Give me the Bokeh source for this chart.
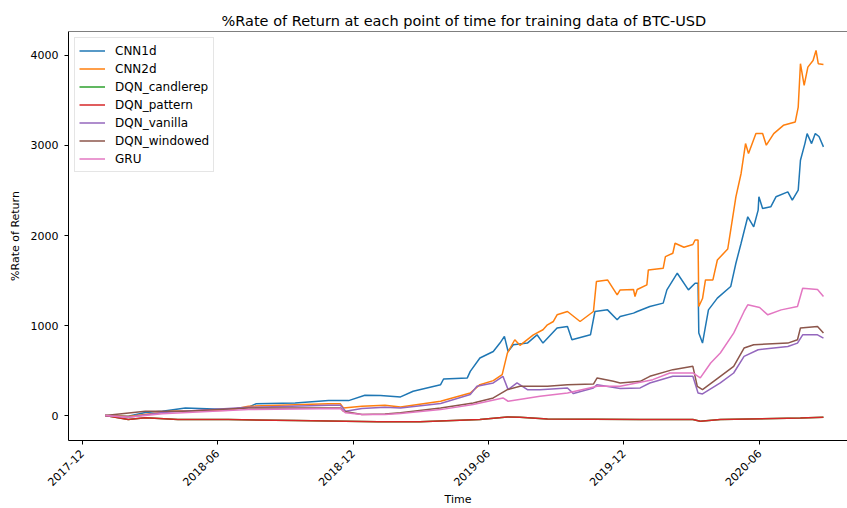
import math
from datetime import datetime
import pandas as pd
from bokeh.plotting import figure
from bokeh.models import (Range1d, FixedTicker, DatetimeTickFormatter, Legend, LegendItem, Span)
from bokeh.embed import file_html
from bokeh.resources import INLINE

# ---------------- data ----------------
cnn1d_dates = ["2018-01-01", "2018-02-01", "2018-02-24", "2018-03-19", "2018-04-19", "2018-06-16",
               "2018-07-13", "2018-07-23", "2018-09-14", "2018-10-29", "2018-11-25", "2018-12-17",
               "2019-01-07", "2019-02-03", "2019-02-20", "2019-03-29", "2019-04-02", "2019-05-04",
               "2019-05-08", "2019-05-21", "2019-06-08", "2019-06-17", "2019-06-23", "2019-06-28",
               "2019-07-05", "2019-07-24", "2019-08-06", "2019-08-14", "2019-09-02", "2019-09-16",
               "2019-09-22", "2019-10-17", "2019-10-23", "2019-11-09", "2019-11-22", "2019-11-26",
               "2019-12-14", "2019-12-19", "2020-01-05", "2020-01-23", "2020-01-28", "2020-02-11",
               "2020-02-26", "2020-03-06", "2020-03-10", "2020-03-11", "2020-03-16", "2020-03-20",
               "2020-03-24", "2020-04-05", "2020-04-23", "2020-04-30", "2020-05-07", "2020-05-16",
               "2020-05-24", "2020-05-30", "2020-05-31", "2020-06-05", "2020-06-16", "2020-06-23",
               "2020-07-09", "2020-07-15", "2020-07-23", "2020-07-26", "2020-08-01", "2020-08-04",
               "2020-08-10", "2020-08-15", "2020-08-20", "2020-08-26"]
cnn1d_values = [0, -7, 33, 48, 85, 66,
                92, 130, 140, 166, 166, 225,
                222, 207, 270, 343, 406, 418,
                491, 639, 712, 805, 879, 712,
                787, 805, 897, 805, 972, 990,
                842, 897, 1156, 1174, 1064, 1100,
                1138, 1156, 1211, 1249, 1396, 1581,
                1396, 1470, 1470, 916, 805, 990,
                1174, 1304, 1433, 1692, 1914, 2208,
                2097, 2282, 2430, 2300, 2319, 2430,
                2485, 2393, 2504, 2836, 3021, 3132,
                3021, 3132, 3100, 2984]

cnn2d_dates = ["2018-01-01", "2018-02-01", "2018-03-30", "2018-06-16", "2018-07-13", "2018-10-29",
               "2018-11-14", "2018-11-18", "2018-12-13", "2019-01-13", "2019-02-03", "2019-03-29",
               "2019-05-08", "2019-05-21", "2019-06-08", "2019-06-20", "2019-06-27", "2019-07-07",
               "2019-07-14", "2019-08-01", "2019-08-14", "2019-08-20", "2019-08-28", "2019-09-02",
               "2019-09-16", "2019-10-03", "2019-10-21", "2019-10-25", "2019-11-09", "2019-11-22",
               "2019-11-26", "2019-12-14", "2019-12-16", "2019-12-19", "2020-01-01", "2020-01-03",
               "2020-01-23", "2020-01-26", "2020-02-05", "2020-02-08", "2020-02-20", "2020-03-03",
               "2020-03-06", "2020-03-10", "2020-03-11", "2020-03-16", "2020-03-20", "2020-03-30",
               "2020-04-05", "2020-04-19", "2020-04-23", "2020-04-30", "2020-05-07", "2020-05-13",
               "2020-05-17", "2020-05-27", "2020-06-05", "2020-06-10", "2020-06-20", "2020-07-03",
               "2020-07-19", "2020-07-23", "2020-07-26", "2020-07-31", "2020-08-05", "2020-08-12",
               "2020-08-16", "2020-08-19", "2020-08-26"]
cnn2d_values = [0, -10, 48, 60, 103, 130,
                130, 85, 103, 115, 96, 159,
                251, 343, 388, 454, 694, 842,
                780, 897, 953, 1008, 1045, 1119,
                1156, 1045, 1156, 1488, 1507, 1341,
                1396, 1400, 1322, 1400, 1452, 1618,
                1636, 1765, 1803, 1914, 1870, 1900,
                1950, 1950, 1211, 1300, 1507, 1507,
                1728, 1850, 2061, 2430, 2689, 3021,
                2910, 3132, 3132, 3003, 3132, 3224,
                3261, 3427, 3908, 3667, 3870, 3944,
                4055, 3908, 3900]

pattern_dates = ["2018-01-01", "2018-02-01", "2018-02-24", "2018-04-09", "2018-06-16", "2018-09-14",
                 "2019-01-04", "2019-03-01", "2019-05-21", "2019-06-27", "2019-07-14", "2019-08-20",
                 "2019-12-23", "2020-03-03", "2020-03-13", "2020-04-09", "2020-07-26", "2020-08-26"]
pattern_values = [0, -45, -25, -45, -45, -55,
                  -70, -68, -44, -15, -20, -37,
                  -44, -44, -63, -44, -26, -18]
candlerep_dates = list(pattern_dates)
candlerep_values = list(pattern_values)

vanilla_dates = ["2018-01-01", "2018-02-01", "2018-03-19", "2018-07-13", "2018-10-29", "2018-11-14",
                 "2018-11-21", "2018-12-13", "2019-01-13", "2019-02-03", "2019-03-29", "2019-05-08",
                 "2019-05-17", "2019-06-08", "2019-06-21", "2019-06-28", "2019-07-10", "2019-07-24",
                 "2019-08-10", "2019-09-16", "2019-09-24", "2019-10-21", "2019-10-26", "2019-11-26",
                 "2019-12-23", "2020-01-05", "2020-02-05", "2020-03-03", "2020-03-10", "2020-03-16",
                 "2020-04-09", "2020-04-27", "2020-05-11", "2020-05-30", "2020-07-09", "2020-07-22",
                 "2020-07-29", "2020-08-18", "2020-08-26"]
vanilla_values = [0, -20, 33, 92, 115, 115,
                  48, 78, 92, 85, 135, 233,
                  325, 362, 436, 288, 362, 288,
                  288, 307, 244, 307, 343, 300,
                  307, 362, 436, 436, 251, 240,
                  362, 473, 657, 731, 768, 805,
                  897, 897, 861]

windowed_dates = ["2018-01-01", "2018-02-24", "2018-04-19", "2018-07-13", "2018-11-14", "2018-11-18",
                  "2018-12-13", "2019-01-13", "2019-02-03", "2019-03-29", "2019-05-12", "2019-06-08",
                  "2019-06-27", "2019-07-14", "2019-08-20", "2019-09-16", "2019-10-21", "2019-10-26",
                  "2019-11-17", "2019-11-26", "2019-12-23", "2020-01-05", "2020-02-05", "2020-03-03",
                  "2020-03-09", "2020-03-16", "2020-04-09", "2020-04-27", "2020-05-11", "2020-05-24",
                  "2020-07-09", "2020-07-22", "2020-07-26", "2020-08-18", "2020-08-26"]
windowed_values = [0, 48, 48, 85, 85, 48,
                   11, 18, 30, 85, 140, 196,
                   288, 325, 325, 343, 350, 418,
                   380, 362, 380, 436, 510, 547,
                   325, 288, 436, 547, 750, 787,
                   805, 842, 972, 990, 916]

gru_dates = ["2018-01-01", "2018-02-01", "2018-03-19", "2018-07-13", "2018-11-14", "2018-11-21",
             "2018-12-13", "2019-01-13", "2019-02-03", "2019-03-29", "2019-05-12", "2019-06-21",
             "2019-06-28", "2019-08-10", "2019-09-16", "2019-10-26", "2019-11-26", "2020-01-09",
             "2020-02-01", "2020-03-03", "2020-03-13", "2020-03-27", "2020-04-09", "2020-04-27",
             "2020-05-11", "2020-05-16", "2020-06-01", "2020-06-12", "2020-06-30", "2020-07-22",
             "2020-07-29", "2020-08-18", "2020-08-26"]
gru_values = [0, -18, 20, 66, 78, 30,
              11, 11, 22, 66, 122, 196,
              159, 214, 251, 325, 325, 399,
              473, 473, 418, 584, 695, 916,
              1156, 1230, 1200, 1119, 1174, 1211,
              1415, 1400, 1322]

series_names = ["CNN1d", "CNN2d", "DQN_candlerep", "DQN_pattern", "DQN_vanilla", "DQN_windowed", "GRU"]
series_colors = ["#1f77b4", "#ff7f0e", "#2ca02c", "#d62728", "#9467bd", "#8c564b", "#e377c2"]

x_tick_labels = ["2017-12", "2018-06", "2018-12", "2019-06", "2019-12", "2020-06"]
y_ticks = [0, 1000, 2000, 3000, 4000]

series = [
    (cnn1d_dates, cnn1d_values),
    (cnn2d_dates, cnn2d_values),
    (candlerep_dates, candlerep_values),
    (pattern_dates, pattern_values),
    (vanilla_dates, vanilla_values),
    (windowed_dates, windowed_values),
    (gru_dates, gru_values),
]

FONT = "DejaVu Sans"

p = figure(width=847, height=508, output_backend="svg", toolbar_location=None,
           x_axis_type="datetime",
           x_range=Range1d(datetime(2017, 11, 12, 12), datetime(2020, 9, 27, 10)),
           y_range=Range1d(-277, 4266),
           min_border_left=68, min_border_right=0, min_border_top=31, min_border_bottom=10)

p.title.text = "%Rate of Return at each point of time for training data of BTC-USD"
p.title.text_font = FONT
p.title.text_font_size = "14.5px"
p.title.text_font_style = "normal"
p.title.text_color = "black"
p.title.align = "left"
p.title.offset = 153
p.title.standoff = 5

p.grid.visible = False
p.outline_line_color = None
p.background_fill_color = "white"
p.border_fill_color = "white"

renderers = []
for (d, v), name, col in zip(series, series_names, series_colors):
    r = p.line(pd.to_datetime(d), v, line_color=col, line_width=1.5)
    renderers.append((name, r))

# top spine
p.add_layout(Span(location=4266, dimension="width", line_color="black", line_width=1))

tick_ms = [pd.Timestamp(t + "-01").value // 10**6 for t in x_tick_labels]
p.xaxis.ticker = FixedTicker(ticks=tick_ms)
p.xaxis.formatter = DatetimeTickFormatter(years="%Y-%m", months="%Y-%m", days="%Y-%m",
                                          hours="%Y-%m", minutes="%Y-%m", seconds="%Y-%m",
                                          milliseconds="%Y-%m", microseconds="%Y-%m",
                                          hourmin="%Y-%m", minsec="%Y-%m")
p.xaxis.major_label_orientation = math.pi / 4
p.yaxis.ticker = FixedTicker(ticks=y_ticks)

p.xaxis.axis_label = "Time"
p.yaxis.axis_label = "%Rate of Return"
for ax in (p.xaxis, p.yaxis):
    ax.axis_label_text_font = FONT
    ax.axis_label_text_font_size = "11px"
    ax.axis_label_text_font_style = "normal"
    ax.axis_label_text_color = "black"
    ax.major_label_text_font = FONT
    ax.major_label_text_font_size = "11px"
    ax.major_label_text_color = "black"
    ax.axis_line_color = "black"
    ax.major_tick_line_color = "black"
    ax.major_tick_out = 4
    ax.major_tick_in = 0
    ax.minor_tick_line_color = None
p.yaxis.major_label_standoff = 6
p.yaxis.axis_label_standoff = 6
p.xaxis.major_label_standoff = 7
p.xaxis.axis_label_standoff = 0

legend = Legend(items=[LegendItem(label=n, renderers=[r]) for n, r in renderers],
                location="top_left", margin=6, padding=4, spacing=1,
                label_height=17, glyph_height=17, glyph_width=26, label_standoff=10,
                label_text_font=FONT, label_text_font_size="12px", label_text_color="black",
                border_line_color="#cccccc", border_line_width=1, background_fill_alpha=0.8)
p.add_layout(legend)

open("out.html", "w").write(file_html(p, INLINE))
